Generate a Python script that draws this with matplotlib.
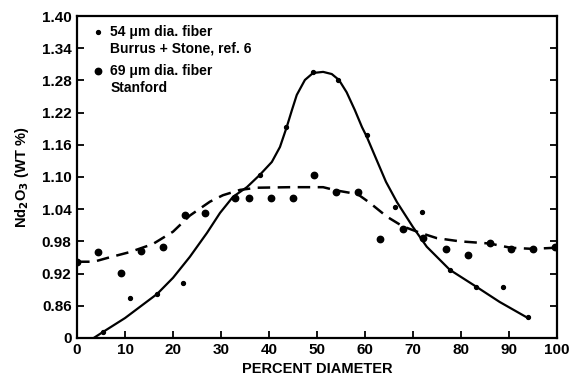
#!/usr/bin/env python3
# -*- coding: utf-8 -*-
"""
Nd2O3 concentration across the fiber diameter
- 54 um fiber (Burrus + Stone) small dots + solid curve
- 69 um fiber (Stanford) large dots + dashed curve
"""

import matplotlib
matplotlib.use("Agg")
import matplotlib.pyplot as plt

plt.rcParams['font.family'] = ['Liberation Sans', 'DejaVu Sans']
plt.rcParams['font.weight'] = 'bold'

# ----------- DATA -----------
# 54 um dia. fiber, Burrus + Stone (small dots)
x_54 = [5.4, 11.0, 16.7, 22.1, 38.1, 43.6, 49.2, 54.4, 60.4, 66.3, 71.9, 77.7, 83.2, 88.8, 94.0]
y_54 = [0.811, 0.875, 0.882, 0.903, 1.104, 1.193, 1.296, 1.281, 1.178, 1.044, 1.035, 0.927, 0.895, 0.895, 0.838]

# 69 um dia. fiber, Stanford (large dots)
x_69 = [0.0, 4.4, 9.2, 13.3, 17.9, 22.5, 26.7, 32.9, 35.8, 40.4, 45.0, 49.4, 54.0, 58.5,
        63.1, 67.9, 72.1, 76.9, 81.5, 86.0, 90.4, 95.0, 99.6]
y_69 = [0.942, 0.960, 0.921, 0.962, 0.970, 1.029, 1.033, 1.061, 1.061, 1.061, 1.061, 1.104,
        1.072, 1.072, 0.985, 1.003, 0.986, 0.966, 0.955, 0.977, 0.966, 0.966, 0.970]

# hand-drawn fit curves
curve_54_x = [3.5, 5.4, 10.0, 16.7, 20.0, 23.5, 27.1, 29.8, 32.5, 35.4, 38.1, 40.6, 42.3, 43.7,
              44.8, 45.8, 47.5, 49.2, 51.3, 53.1, 54.6, 56.2, 57.9, 59.4, 60.4, 62.3, 64.4,
              66.7, 70.0, 72.9, 77.7, 83.3, 88.1, 94.0]
curve_54_y = [0.800, 0.811, 0.837, 0.882, 0.912, 0.951, 0.996, 1.033, 1.063, 1.081, 1.104, 1.128,
              1.156, 1.193, 1.225, 1.253, 1.281, 1.294, 1.296, 1.292, 1.281, 1.258, 1.225, 1.193,
              1.175, 1.135, 1.091, 1.053, 1.007, 0.970, 0.927, 0.895, 0.867, 0.837]

curve_69_x = [0.0, 3.5, 6.3, 11.0, 15.8, 20.0, 23.5, 27.7, 30.4, 34.0, 37.5, 44.4, 51.3, 54.0,
              58.5, 61.0, 64.6, 67.9, 71.5, 75.0, 79.8, 86.0, 90.4, 95.0, 99.6]
curve_69_y = [0.942, 0.942, 0.949, 0.960, 0.975, 0.998, 1.028, 1.054, 1.066, 1.076, 1.080, 1.081,
              1.081, 1.075, 1.068, 1.052, 1.026, 1.008, 0.996, 0.986, 0.980, 0.976, 0.968, 0.966,
              0.968]

y_ticks = [0.80, 0.86, 0.92, 0.98, 1.04, 1.10, 1.16, 1.22, 1.28, 1.34, 1.40]
y_tick_labels = ["0", "0.86", "0.92", "0.98", "1.04", "1.10", "1.16", "1.22", "1.28", "1.34", "1.40"]
x_ticks = [0, 10, 20, 30, 40, 50, 60, 70, 80, 90, 100]

# ----------- PLOT -----------
fig = plt.figure(figsize=(5.71, 3.75), dpi=100)
ax = fig.add_axes([0.135, 0.099, 0.840, 0.858])

ax.plot(curve_54_x, curve_54_y, color='black', lw=1.6, solid_joinstyle='round')
ax.plot(curve_69_x, curve_69_y, color='black', lw=1.8, dashes=(5, 3))
ax.plot(x_54, y_54, 'o', color='black', ms=2.8, ls='none')
ax.plot(x_69, y_69, 'o', color='black', ms=4.6, ls='none')

ax.set_xlim(0, 100)
ax.set_ylim(0.80, 1.40)
ax.set_xticks(x_ticks)
ax.set_yticks(y_ticks)
ax.set_yticklabels(y_tick_labels)
ax.tick_params(direction='in', length=5, width=1.3, labelsize=11, right=True, pad=4)
for s in ax.spines.values():
    s.set_linewidth(1.6)

ax.set_xlabel("PERCENT DIAMETER", fontsize=10.5, fontweight='bold', labelpad=3)
ax.set_ylabel(r"Nd$_2$O$_3$ (WT %)", fontsize=10.5, fontweight='bold', labelpad=8)

# legend, written the way the scan has it
ax.plot([4.4], [1.370], 'o', color='black', ms=2.8)
ax.text(6.9, 1.371, "54 \u03bcm dia. fiber", fontsize=10, va='center')
ax.text(6.9, 1.339, "Burrus + Stone, ref. 6", fontsize=10, va='center')
ax.plot([4.4], [1.298], 'o', color='black', ms=4.6)
ax.text(6.9, 1.298, "69 \u03bcm dia. fiber", fontsize=10, va='center')
ax.text(6.9, 1.266, "Stanford", fontsize=10, va='center')

fig.savefig("out.png", dpi=100)
